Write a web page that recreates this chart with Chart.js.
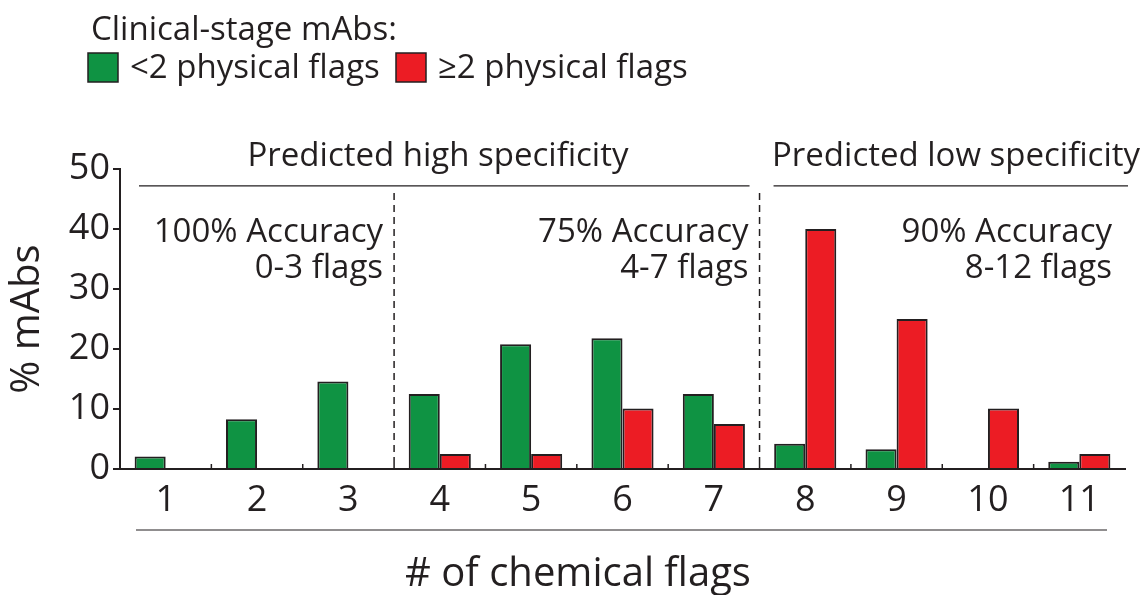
<!DOCTYPE html>
<html>
<head>
<meta charset="utf-8">
<script src="https://cdn.jsdelivr.net/npm/chart.js@4.4.1/dist/chart.umd.min.js"></script>
<style>
  html, body { margin: 0; padding: 0; background: #fff; }
  #wrap { width: 1144px; height: 595px; position: relative; }
</style>
</head>
<body>
<div id="wrap"><canvas id="chart" width="1144" height="595"></canvas></div>
<script>
// chemical flag counts on the x axis
const categories = ['1', '2', '3', '4', '5', '6', '7', '8', '9', '10', '11']
// % of mAbs, null where no bar is drawn
const lowPhysical = [2.1, 8.3, 14.6, 12.5, 20.8, 21.8, 12.5, 4.2, 3.3, null, 1.2]
const highPhysical = [null, null, null, 2.5, 2.5, 10.1, 7.5, 40, 25, 10.1, 2.5]
const yTicks = [0, 10, 20, 30, 40, 50]

const seriesLabels = ['<2 physical flags', '\u22652 physical flags']
const groupTitles = ['Predicted high specificity', 'Predicted low specificity']
const accuracyLines = [
    ['100% Accuracy', '0-3 flags'],
    ['75% Accuracy', '4-7 flags'],
    ['90% Accuracy', '8-12 flags']
]

const GREEN = '#0f9343'
const RED = '#ec1c24'
const INK = '#231f20'
const FONT = '"Open Sans", "DejaVu Sans", sans-serif'

const extras = {
    id: 'extras',
    afterDraw(chart) {
        const ctx = chart.ctx
        const xs = chart.scales.x
        const ys = chart.scales.y
        const area = chart.chartArea
        const step = xs.getPixelForValue(1) - xs.getPixelForValue(0)
        const edge = i => xs.getPixelForValue(i) - step / 2

        ctx.save()
        // little tick marks at category boundaries, pointing up
        ctx.strokeStyle = INK
        ctx.lineWidth = 1.5
        for (let i = 1; i < categories.length; i++) {
            ctx.beginPath()
            ctx.moveTo(edge(i), area.bottom)
            ctx.lineTo(edge(i), area.bottom - 5)
            ctx.stroke()
        }

        // dashed separators between accuracy groups
        ctx.setLineDash([7, 5])
        ctx.lineWidth = 1.5
        for (const i of [3, 7]) {
            ctx.beginPath()
            ctx.moveTo(edge(i), area.top + 24)
            ctx.lineTo(edge(i), area.bottom)
            ctx.stroke()
        }
        ctx.setLineDash([])

        // group brackets and titles above the plot
        ctx.lineWidth = 1.2
        const lineY = ys.getPixelForValue(47.2)
        ctx.beginPath()
        ctx.moveTo(area.left + 19, lineY)
        ctx.lineTo(edge(7) - 10, lineY)
        ctx.moveTo(edge(7) + 14, lineY)
        ctx.lineTo(area.right + 3, lineY)
        ctx.stroke()

        ctx.fillStyle = INK
        ctx.textBaseline = 'alphabetic'
        ctx.font = '33px ' + FONT
        ctx.textAlign = 'center'
        ctx.fillText(groupTitles[0], 438, lineY - 20)
        ctx.fillText(groupTitles[1], 956, lineY - 20)

        // accuracy notes, right aligned to each group's edge
        ctx.textAlign = 'right'
        const rights = [edge(3) - 11, edge(7) - 11, area.right - 13]
        accuracyLines.forEach((lines, k) => {
            ctx.fillText(lines[0], rights[k], ys.getPixelForValue(37.8))
            ctx.fillText(lines[1], rights[k], ys.getPixelForValue(31.9))
        })

        // line under the category labels and the axis title
        ctx.lineWidth = 1.2
        ctx.beginPath()
        ctx.moveTo(136, 530)
        ctx.lineTo(1107, 530)
        ctx.stroke()
        ctx.textAlign = 'center'
        ctx.font = '40px ' + FONT
        ctx.fillText('# of chemical flags', 578, 586)

        // legend
        ctx.textAlign = 'left'
        ctx.font = '33px ' + FONT
        ctx.fillText('Clinical-stage mAbs:', 91, 40)
        const boxes = [[88, GREEN, seriesLabels[0]], [396, RED, seriesLabels[1]]]
        for (const [bx, col, label] of boxes) {
            ctx.fillStyle = col
            ctx.fillRect(bx, 53, 30, 29)
            ctx.strokeStyle = INK
            ctx.lineWidth = 1.5
            ctx.strokeRect(bx, 53, 30, 29)
            ctx.fillStyle = INK
            ctx.fillText(label, bx + 42, 78)
        }
        ctx.restore()
    }
}

new Chart(document.getElementById('chart'), {
    type: 'bar',
    data: {
        labels: categories,
        datasets: [{
            label: seriesLabels[0],
            data: lowPhysical,
            backgroundColor: GREEN,
            borderColor: INK,
            borderWidth: 2
        }, {
            label: seriesLabels[1],
            data: highPhysical,
            backgroundColor: RED,
            borderColor: INK,
            borderWidth: 2
        }]
    },
    options: {
        responsive: false,
        animation: false,
        events: [],
        categoryPercentage: 0.68,
        barPercentage: 1.0,
        layout: {padding: {top: 169, right: 19, left: 0, bottom: 0}},
        plugins: {legend: {display: false}, tooltip: {enabled: false}},
        scales: {
            x: {
                afterFit: s => { s.height = 126 },
                grid: {display: false, drawTicks: false},
                border: {color: INK, width: 2},
                ticks: {color: INK, padding: 10, font: {family: FONT, size: 36}}
            },
            y: {
                min: 0,
                max: 50,
                afterFit: s => { s.width = 120 },
                afterBuildTicks: s => { s.ticks = yTicks.map(v => ({value: v})) },
                grid: {drawOnChartArea: false, tickLength: 7, color: INK, lineWidth: 2},
                border: {color: INK, width: 2},
                ticks: {color: INK, padding: 3, font: {family: FONT, size: 36}},
                title: {display: true, text: '% mAbs', color: INK,
                        font: {family: FONT, size: 40}, padding: {bottom: 4}}
            }
        }
    },
    plugins: [extras]
})
</script>
</body>
</html>
